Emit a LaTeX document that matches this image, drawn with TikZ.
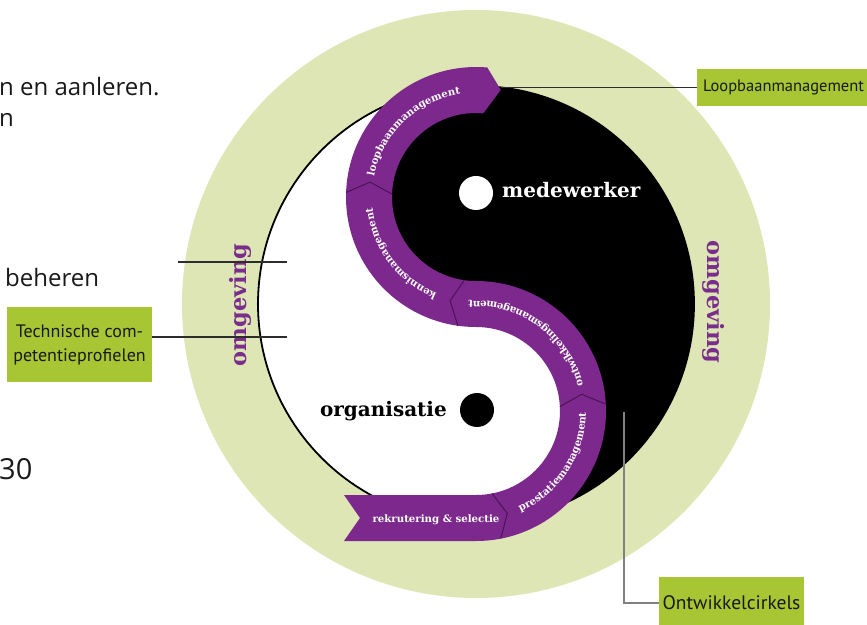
\documentclass[tikz,border=0pt]{standalone}
\usepackage{fontspec}
\setmainfont{Open Sans}
\newfontfamily\slabfont{DejaVu Serif}
\newfontfamily\labelfont{PT Sans}
\usepackage{tikz}
\usetikzlibrary{positioning, calc, decorations.text}

\definecolor{ringgreen}{RGB}{221,230,180}
\definecolor{boxgreen}{RGB}{168,198,52}
\definecolor{bandpurple}{RGB}{125,40,140}
\definecolor{darkpurple}{RGB}{70,18,80}
\definecolor{ringpurple}{RGB}{122,45,140}
\definecolor{linegray}{RGB}{45,45,45}

\newcommand{\bandfont}{\slabfont\bfseries\fontsize{10.2}{12}\selectfont}
\newcommand{\bodyfont}{\fontsize{24}{31}\selectfont}

\tikzset{bandtext/.style={decorate, decoration={text along path, text align=center, text={|\bandfont\color{white}|#1}}}}

\begin{document}
\begin{tikzpicture}[x=1pt,y=1pt]
	\tikzstyle{labelbox}=[fill=boxgreen, inner sep=0pt, align=center, text=black!90]
	\tikzstyle{connector}=[draw=linegray, line width=1.3pt]
	\tikzstyle{divider}=[draw=darkpurple, line width=0.9pt]
	\tikzstyle{ringtext}=[font=\slabfont\bfseries\fontsize{22.5}{26}\selectfont, text=ringpurple]
	\tikzstyle{roletext}=[font=\slabfont\bfseries\fontsize{20}{24}\selectfont, inner sep=0pt]
	\tikzstyle{bodytext}=[font=\bodyfont, anchor=base west, inner sep=0pt, text=black!90]
	\useasboundingbox (0,0) rectangle (867,624);
	\coordinate (C) at (476,320);
	\coordinate (U) at (476,427);
	\coordinate (L) at (476,213);
	% omgeving ring and yin-yang
	\fill[ringgreen] (C) circle (294);
	\draw[line width=1.8pt, fill=white] (C) circle (218);
	\fill[black] (476,538) arc[start angle=90, end angle=-90, radius=218] -- (476,106)
		arc[start angle=-90, end angle=90, radius=107]
		arc[start angle=270, end angle=90, radius=107] -- cycle;
	% ontwikkelcirkel band
	\fill[bandpurple] (344,129) -- (476,129)
		arc[start angle=-90, end angle=90, radius=84]
		arc[start angle=270, end angle=85, radius=130]
		-- ($(U)+(77:110)$) coordinate (looptip)
		-- ($(U)+(85:84)$)
		arc[start angle=85, end angle=270, radius=84]
		arc[start angle=90, end angle=-90, radius=130]
		-- (344,83) -- (360,106) -- cycle;
	\draw[divider] ($(L)+(-79:84)$) -- ($(L)+(-73:107)$) -- ($(L)+(-79:130)$);
	\draw[divider] ($(L)+(3:84)$) -- ($(L)+(9:107)$) -- ($(L)+(3:130)$);
	\draw[divider] ($(U)+(262:84)$) -- ($(U)+(256:107)$) -- ($(U)+(262:130)$);
	\draw[divider] ($(U)+(178:84)$) -- ($(U)+(172:107)$) -- ($(U)+(178:130)$);
	% texts on the band
	\path[bandtext=loopbaanmanagement] ($(U)+(170:104)$) arc[start angle=170, end angle=97, radius=104];
	\path[bandtext=kennismanagement] ($(U)+(254:104)$) arc[start angle=254, end angle=180, radius=104];
	\path[bandtext=ontwikkelingsmanagement] ($(L)+(8:110)$) arc[start angle=8, end angle=90, radius=110]
		arc[start angle=270, end angle=260, radius=104];
	\path[bandtext=prestatiemanagement] ($(L)+(-72:110)$) arc[start angle=-72, end angle=5, radius=110];
	\node[font=\bandfont, text=white, anchor=base] (rekrutering) at (436,102) {rekrutering \& selectie};
	% medewerker and organisatie
	\node[circle, fill=white, minimum size=34pt, inner sep=0pt] (meddot) at (476,431) {};
	\node[roletext, text=white, anchor=base west] (medewerker) at (502,426) {medewerker};
	\node[circle, fill=black, minimum size=34pt, inner sep=0pt] (orgdot) at (477,214) {};
	\node[roletext, anchor=base east] (organisatie) at (447,207) {organisatie};
	\node[ringtext, rotate=90] (omgevingleft) at (240,319) {omgeving};
	\node[ringtext, rotate=-90] (omgevingright) at (714,322) {omgeving};
	% cut off text of the page
	\node[bodytext] (aanleren) at (-1,528) {n en aanleren.};
	\node[bodytext] (restregel) at (-1,497) {n};
	\node[bodytext] (beheren) at (5,337) {beheren};
	\node[bodytext, font=\fontsize{29}{34}\selectfont] (paginanr) at (-1,144) {30};
	% labels
	\node[labelbox, font=\labelfont\fontsize{16.5}{20}\selectfont, minimum width=173pt, minimum height=37pt] (loopbox) at (783.5,536.5) {Loopbaanmanagement};
	\node[labelbox, font=\labelfont\fontsize{18}{24}\selectfont, minimum width=145pt, minimum height=75pt] (techbox) at (79.5,279.5) {Technische com-\\petentieprofielen};
	\node[labelbox, font=\labelfont\fontsize{19.5}{24}\selectfont, minimum width=145pt, minimum height=52pt] (ontbox) at (731.5,21) {Ontwikkelcirkels};
	\coordinate (techend) at (287,287);
	\coordinate (beherenstart) at (178,362);
	\coordinate (beherenend) at (287,362);
	\coordinate (ontend) at (624,212);
	\draw[connector] (loopbox.west) -- (loopbox.west -| looptip);
	\draw[connector] (techbox.east |- techend) -- (techend);
	\draw[connector] (beherenstart) -- (beherenend);
	\draw[connector, draw=gray] (ontbox.west) -| (ontend);
\end{tikzpicture}
\end{document}
